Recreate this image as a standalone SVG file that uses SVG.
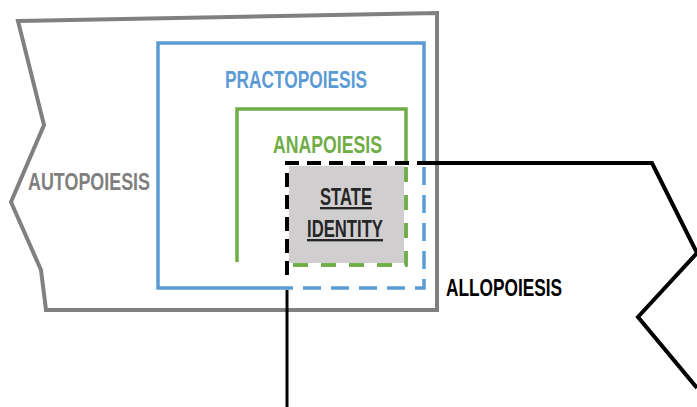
<svg xmlns="http://www.w3.org/2000/svg" width="697" height="407" viewBox="0 0 697 407">
<style>
.lbl{font-family:"Liberation Sans",Arial,sans-serif;font-weight:bold;font-size:23.5px}
.ln{fill:none;stroke-linejoin:miter;stroke-linecap:butt}
</style>
<rect width="697" height="407" fill="#ffffff"/>
<g id="autopoiesis">
<polygon class="ln" points="18,21 437,13 437,310 46,310 41,270 11,202 44,125" stroke="#808080" stroke-width="4"/>
<text class="lbl" x="28" y="190" fill="#7f7f7f" textLength="122" lengthAdjust="spacingAndGlyphs">AUTOPOIESIS</text>
</g>
<g id="practopoiesis">
<polyline class="ln" points="287,288 158,288 158,43 424,43 424,163" stroke="#5b9bd5" stroke-width="3.5"/>
<polyline class="ln" points="424,163 424,288 287,288" stroke="#5b9bd5" stroke-width="3.5" stroke-dasharray="18 10" stroke-dashoffset="-4"/>
<text class="lbl" x="225" y="88" fill="#5b9bd5" textLength="142" lengthAdjust="spacingAndGlyphs">PRACTOPOIESIS</text>
</g>
<g id="anapoiesis">
<polyline class="ln" points="237,262 237,109 406,109 406,163" stroke="#70ad47" stroke-width="3.5"/>
<polyline class="ln" points="406,163 406,265 288,265" stroke="#70ad47" stroke-width="3.5" stroke-dasharray="15 13" stroke-dashoffset="-4"/>
<text class="lbl" x="273" y="153" fill="#70ad47" textLength="109" lengthAdjust="spacingAndGlyphs">ANAPOIESIS</text>
</g>
<g id="state-identity">
<rect x="289" y="166" width="115" height="97" fill="#d0cece"/>
<polyline class="ln" points="406,166 406,265 290,265" stroke="#70ad47" stroke-width="3.5" stroke-dasharray="15 13" stroke-dashoffset="-1"/>
<text class="lbl" x="346" y="205" fill="#262626" text-anchor="middle" text-decoration="underline" textLength="52" lengthAdjust="spacingAndGlyphs">STATE</text>
<text class="lbl" x="345" y="237" fill="#262626" text-anchor="middle" text-decoration="underline" textLength="76" lengthAdjust="spacingAndGlyphs">IDENTITY</text>
</g>
<g id="allopoiesis">
<polyline class="ln" points="287,275 287,163 424,163" stroke="#000000" stroke-width="4" stroke-dasharray="14 8"/>
<polyline class="ln" points="287,407 287,290" stroke="#000000" stroke-width="3"/>
<polyline class="ln" points="424,163 652,163 697,253 638,317 697,388" stroke="#000000" stroke-width="4"/>
<text class="lbl" x="446" y="296" fill="#000000" textLength="116" lengthAdjust="spacingAndGlyphs">ALLOPOIESIS</text>
</g>
</svg>
